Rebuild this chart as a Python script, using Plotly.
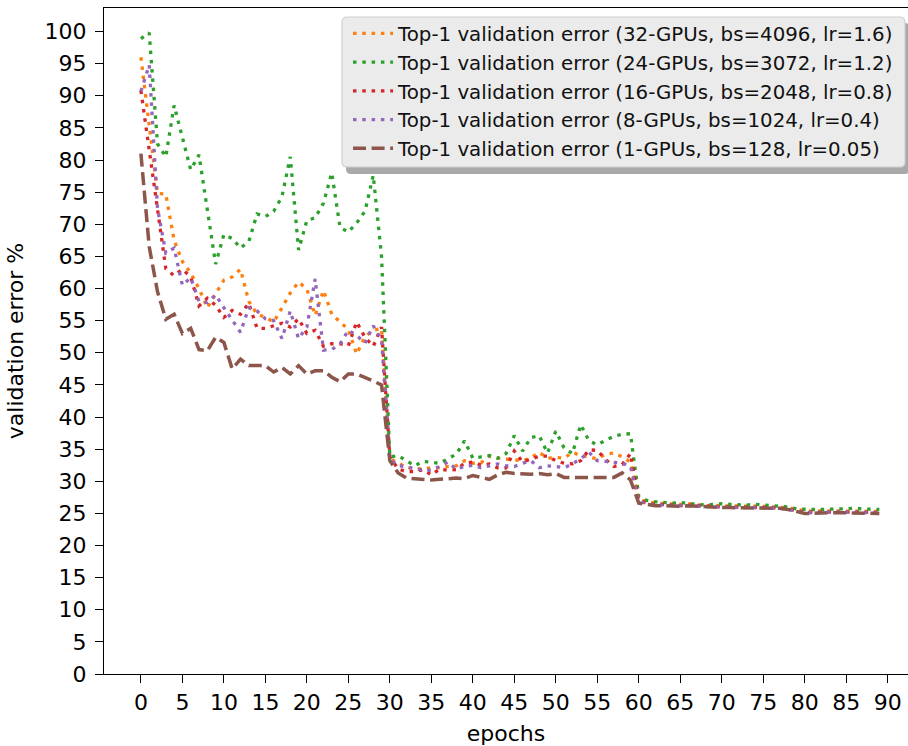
import plotly.graph_objects as go

epochs = list(range(90))

err_32gpu = [96.0, 85.5, 74.8, 74.7, 67.5, 64.2, 62.4, 60.0, 57.0, 59.2,
             61.3, 61.8, 63.0, 58.0, 56.0, 55.5, 54.8, 57.0, 59.3, 61.0,
             59.9, 55.8, 59.7, 56.0, 54.8, 53.6, 49.8, 52.5, 53.5, 53.8,
             33.5, 32.9, 32.1, 32.0, 31.9, 32.1, 32.1, 32.3, 32.4, 33.2,
             32.8, 32.9, 33.9, 33.6, 33.5, 33.4, 33.2, 33.6, 34.5, 33.6,
             33.7, 33.6, 34.5, 34.0, 33.8, 33.5, 34.2, 34.4, 33.8, 33.0,
             27.2, 26.8, 26.6, 26.5, 26.4, 26.4, 26.5, 26.3, 26.2, 26.2,
             26.2, 26.2, 26.1, 26.1, 26.2, 26.1, 26.0, 26.0, 25.9, 25.6,
             25.4, 25.3, 25.4, 25.4, 25.4, 25.4, 25.3, 25.4, 25.3, 25.3]

err_24gpu = [98.9, 99.8, 82.5, 80.5, 88.5, 83.5, 78.5, 80.8, 72.5, 63.8,
             68.4, 67.8, 66.3, 67.3, 71.6, 71.2, 72.0, 74.3, 80.5, 66.0,
             70.6, 71.0, 73.3, 78.0, 69.5, 68.8, 70.2, 72.0, 77.6, 65.0,
             33.8, 34.0, 33.2, 32.4, 33.1, 33.0, 32.8, 33.5, 34.2, 36.3,
             33.6, 33.8, 34.0, 33.6, 34.3, 37.1, 34.7, 36.8, 37.1, 34.4,
             37.8, 35.2, 34.3, 38.8, 36.3, 35.7, 36.3, 37.0, 37.3, 37.4,
             27.6, 27.0, 26.8, 26.7, 26.6, 26.7, 26.5, 26.4, 26.3, 26.4,
             26.5, 26.4, 26.3, 26.3, 26.4, 26.3, 26.2, 26.2, 26.0, 25.7,
             25.6, 25.6, 25.6, 25.7, 25.7, 25.7, 25.8, 25.7, 25.7, 25.6]

err_16gpu = [90.8, 81.8, 72.5, 63.1, 62.0, 63.0, 61.8, 57.3, 58.5, 57.4,
             55.5, 56.6, 56.0, 57.7, 53.8, 53.8, 54.2, 54.6, 54.0, 55.3,
             53.0, 53.5, 51.0, 51.4, 51.4, 51.1, 54.8, 52.4, 51.0, 54.0,
             33.8, 31.9, 31.5, 31.5, 31.8, 31.0, 31.9, 31.7, 31.8, 32.8,
             33.0, 32.5, 32.7, 32.1, 32.1, 34.7, 33.0, 33.4, 33.9, 33.9,
             33.2, 32.8, 32.7, 33.2, 34.9, 34.8, 33.4, 32.3, 32.6, 34.3,
             27.0, 26.6, 26.4, 26.4, 26.3, 26.2, 26.3, 26.2, 26.1, 26.0,
             26.0, 26.0, 26.0, 25.9, 25.9, 25.9, 25.9, 25.8, 25.7, 25.4,
             25.2, 25.2, 25.2, 25.2, 25.3, 25.2, 25.2, 25.2, 25.2, 25.1]

err_8gpu = [90.7, 94.8, 72.5, 65.5, 66.3, 60.5, 61.7, 58.0, 57.8, 59.0,
            57.0, 55.2, 53.2, 57.0, 56.5, 55.3, 55.0, 52.2, 56.5, 52.2,
            54.0, 61.5, 50.4, 50.5, 51.4, 53.5, 52.7, 51.5, 54.2, 52.0,
            33.5, 32.4, 32.3, 31.9, 31.8, 31.7, 32.3, 33.0, 31.9, 32.3,
            32.5, 32.1, 32.4, 32.7, 32.4, 32.3, 32.8, 33.2, 32.1, 32.4,
            32.3, 32.1, 32.7, 33.5, 34.5, 33.2, 33.1, 33.0, 32.8, 32.3,
            26.9, 26.5, 26.3, 26.3, 26.2, 26.2, 26.2, 26.1, 26.0, 26.0,
            26.0, 25.9, 25.9, 25.9, 25.9, 25.8, 25.8, 25.8, 25.6, 25.3,
            25.1, 25.1, 25.2, 25.2, 25.2, 25.2, 25.2, 25.1, 25.1, 25.1]

err_1gpu = [81.0, 66.5, 59.5, 55.2, 56.0, 53.0, 53.8, 50.5, 50.3, 52.4,
            51.6, 47.5, 49.0, 48.0, 48.0, 48.0, 47.0, 47.7, 46.7, 48.0,
            46.7, 47.2, 47.2, 46.2, 45.5, 46.7, 46.7, 46.2, 45.6, 45.0,
            33.2, 31.3, 30.5, 30.4, 30.3, 30.2, 30.3, 30.4, 30.5, 30.4,
            30.9, 30.6, 30.3, 31.0, 31.4, 31.2, 31.1, 31.1, 31.2, 31.0,
            31.2, 30.6, 30.6, 30.6, 30.6, 30.5, 30.5, 30.6, 31.3, 30.2,
            26.6, 26.4, 26.2, 26.2, 26.1, 26.1, 26.2, 26.1, 26.0, 25.9,
            25.9, 25.9, 25.9, 25.8, 25.8, 25.8, 25.8, 25.8, 25.6, 25.3,
            25.0, 25.0, 25.1, 25.1, 25.1, 25.1, 25.1, 25.0, 25.0, 25.0]

series_names = [
    "Top-1 validation error (32-GPUs, bs=4096, lr=1.6)",
    "Top-1 validation error (24-GPUs, bs=3072, lr=1.2)",
    "Top-1 validation error (16-GPUs, bs=2048, lr=0.8)",
    "Top-1 validation error (8-GPUs, bs=1024, lr=0.4)",
    "Top-1 validation error (1-GPUs, bs=128, lr=0.05)",
]
series_values = [err_32gpu, err_24gpu, err_16gpu, err_8gpu, err_1gpu]
series_colors = ["#ff7f0e", "#2ca02c", "#d62728", "#9467bd", "#8c564b"]
series_dash = ["3.5px,5.8px", "3.5px,5.8px", "3.5px,5.8px", "3.5px,5.8px", "13px,5.6px"]

x_ticks = list(range(0, 95, 5))
y_ticks = list(range(0, 105, 5))

W, H = 908, 746
L, R, T, B = 104, 0, 8, 72
PW, PH = W - L - R, H - T - B


def px_x(px):
    return (px - L) / PW


def px_y(py):
    return (H - B - py) / PH


fig = go.Figure()
for i, (name, vals, col, dash) in enumerate(zip(series_names, series_values, series_colors, series_dash)):
    fig.add_trace(go.Scatter(
        x=epochs, y=vals, mode="lines", name=name,
        legendgroup=f"g{i}",
        line=dict(color=col, width=3.3 if i < 4 else 3.5, dash=dash),
    ))

# legend frame (shadow + rounded box)
def rounded(x0, y0, x1, y1, r):
    X0, X1 = px_x(x0), px_x(x1)
    Y0, Y1 = px_y(y0), px_y(y1)
    rx, ry = r / PW, r / PH
    return (f"M{X0+rx},{Y0} L{X1-rx},{Y0} Q{X1},{Y0} {X1},{Y0-ry} "
            f"L{X1},{Y1+ry} Q{X1},{Y1} {X1-rx},{Y1} L{X0+rx},{Y1} "
            f"Q{X0},{Y1} {X0},{Y1+ry} L{X0},{Y0-ry} Q{X0},{Y0} {X0+rx},{Y0} Z")

shapes = [
    dict(type="path", xref="paper", yref="paper", path=rounded(346, 23, 910, 174, 5),
         fillcolor="#a9a9a9", line=dict(width=0), layer="above"),
    dict(type="path", xref="paper", yref="paper", path=rounded(342, 17, 905, 167, 5),
         fillcolor="#ebebeb", line=dict(color="#d0d0d0", width=1.2), layer="above"),
]

fig.update_layout(
    width=W, height=H,
    margin=dict(l=L, r=R, t=T, b=B, pad=0, autoexpand=False),
    paper_bgcolor="white", plot_bgcolor="white",
    font=dict(family="DejaVu Sans", color="black"),
    showlegend=True,
    legend=dict(
        x=px_x(348), y=px_y(14), xanchor="left", yanchor="top",
        bgcolor="rgba(0,0,0,0)", borderwidth=0,
        font=dict(family="DejaVu Sans", size=19.8, color="#111111"),
        tracegroupgap=0, itemwidth=40,
    ),
    shapes=shapes,
    xaxis=dict(
        range=[-4.45, 92.45], tickmode="array", tickvals=x_ticks, automargin=False,
        showgrid=False, zeroline=False, showline=True, linecolor="black", linewidth=1.3,
        mirror=True, ticks="outside", ticklen=8, tickwidth=1.3, tickcolor="black",
        tickfont=dict(family="DejaVu Sans", size=22, color="black"),
        title=dict(text="epochs", font=dict(family="DejaVu Sans", size=22, color="black"), standoff=13),
    ),
    yaxis=dict(
        range=[0, 103.66], tickmode="array", tickvals=y_ticks, automargin=False,
        showgrid=False, zeroline=False, showline=True, linecolor="black", linewidth=1.3,
        ticks="outside", ticklen=8, tickwidth=1.3, tickcolor="black",
        ticklabelstandoff=4,
        tickfont=dict(family="DejaVu Sans", size=22, color="black"),
        title=dict(text="validation error %", font=dict(family="DejaVu Sans", size=22, color="black"), standoff=14),
    ),
)

fig.write_html("out.html", config={"displayModeBar": False},
               post_script="document.body.style.margin='0px';")
